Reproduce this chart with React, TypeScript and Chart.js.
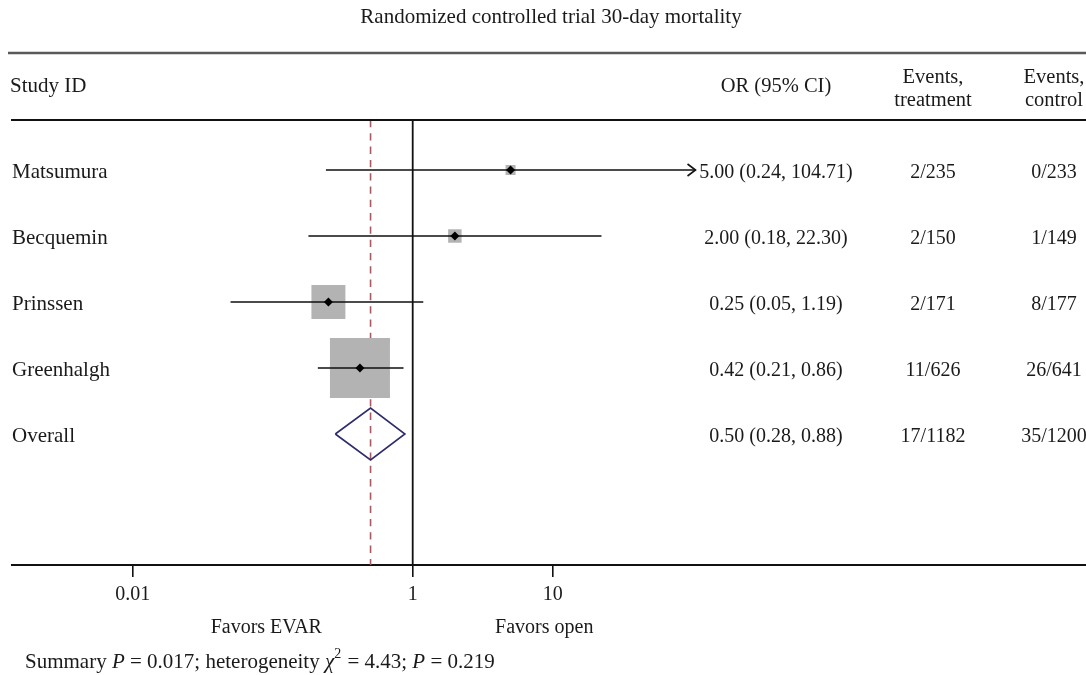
import React, { useEffect, useRef } from "react";
import { Chart, registerables } from "chart.js";

Chart.register(...registerables);

// ---------- data ----------
const chartTitle = "Randomized controlled trial 30-day mortality";
const studies = ["Matsumura", "Becquemin", "Prinssen", "Greenhalgh"];
const oddsRatios = [5.0, 2.0, 0.25, 0.42];
const ciLower = [0.24, 0.18, 0.05, 0.21];
const ciUpper = [104.71, 22.3, 1.19, 0.86];
const weights = [2.0, 3.6, 22.9, 71.5];
const eventsTreatment = ["2/235", "2/150", "2/171", "11/626"];
const eventsControl = ["0/233", "1/149", "8/177", "26/641"];

const overallLabel = "Overall";
const overallOR = 0.5;
const overallLower = 0.28;
const overallUpper = 0.88;
const overallTreatment = "17/1182";
const overallControl = "35/1200";

const xTicks = [0.01, 1, 10];
const favorsLabels = ["Favors EVAR", "Favors open"];
const favorsAnchors = [0.09, 8.7];
const headerLabels = ["Study ID", "OR (95% CI)", "Events,|treatment", "Events,|control"];
const summaryP = "0.017";
const heterogeneityChi2 = "4.43";
const heterogeneityP = "0.219";
const arrowCap = 100;

// ---------- layout / style ----------
const W = 1086;
const H = 675;
const FONT = "'Liberation Serif', 'DejaVu Serif', serif";
const TEXT = "#1a1a1a";
const X_MIN = Math.pow(10, -2.862);
const X_MAX = Math.pow(10, 4.809);
const Y_MIN = 0.2424;
const Y_MAX = 6.985;
const COL_OR = 776;
const COL_TREAT = 933;
const COL_CTRL = 1054;
const MAX_BOX = 60;
const DIAMOND_HALF = 0.394;

const nRows = studies.length + 1;
const rowIndex = (i: number) => i + 1;

const fmt = (v: number) => v.toFixed(2);
const orText = (o: number, l: number, u: number) => `${fmt(o)} (${fmt(l)}, ${fmt(u)})`;

const forestPlugin = {
  id: "forestText",
  afterDatasetsDraw(chart: any) {
    const { ctx, scales } = chart;
    const x = scales.x;
    const y = scales.y;
    ctx.save();
    ctx.strokeStyle = "#111";
    ctx.lineWidth = 1.6;
    studies.forEach((_, i) => {
      if (ciUpper[i] > arrowCap) {
        const px = x.getPixelForValue(ciUpper[i]);
        const py = y.getPixelForValue(rowIndex(i));
        ctx.beginPath();
        ctx.moveTo(px - 8, py - 6);
        ctx.lineTo(px, py);
        ctx.lineTo(px - 8, py + 6);
        ctx.stroke();
      }
    });
    ctx.restore();
  },
  afterDraw(chart: any) {
    const { ctx, scales, chartArea } = chart;
    const x = scales.x;
    const y = scales.y;
    ctx.save();
    ctx.fillStyle = TEXT;
    ctx.textBaseline = "alphabetic";

    // title
    ctx.font = `21px ${FONT}`;
    ctx.textAlign = "center";
    ctx.fillText(chartTitle, 551, 23);

    // rules
    ctx.strokeStyle = "#5a5a5a";
    ctx.lineWidth = 2.5;
    ctx.beginPath();
    ctx.moveTo(8, 53);
    ctx.lineTo(W, 53);
    ctx.stroke();
    ctx.strokeStyle = "#111";
    ctx.lineWidth = 2;
    ctx.beginPath();
    ctx.moveTo(11, chartArea.top);
    ctx.lineTo(W, chartArea.top);
    ctx.stroke();

    // header
    ctx.font = `21px ${FONT}`;
    ctx.textAlign = "left";
    ctx.fillText(headerLabels[0], 10, 92);
    ctx.font = `20.5px ${FONT}`;
    ctx.textAlign = "center";
    ctx.fillText(headerLabels[1], COL_OR, 92);
    const [t1, t2] = headerLabels[2].split("|");
    ctx.fillText(t1, COL_TREAT, 83);
    ctx.fillText(t2, COL_TREAT, 106);
    const [c1, c2] = headerLabels[3].split("|");
    ctx.fillText(c1, COL_CTRL, 83);
    ctx.fillText(c2, COL_CTRL, 106);

    // rows
    const names = [...studies, overallLabel];
    const ors = [
      ...studies.map((_, i) => orText(oddsRatios[i], ciLower[i], ciUpper[i])),
      orText(overallOR, overallLower, overallUpper),
    ];
    const treat = [...eventsTreatment, overallTreatment];
    const ctrl = [...eventsControl, overallControl];
    for (let i = 0; i < nRows; i++) {
      const py = y.getPixelForValue(rowIndex(i)) + 8;
      ctx.font = `21px ${FONT}`;
      ctx.textAlign = "left";
      ctx.fillText(names[i], 12, py);
      ctx.font = `20px ${FONT}`;
      ctx.textAlign = "center";
      ctx.fillText(ors[i], COL_OR, py);
      ctx.fillText(treat[i], COL_TREAT, py);
      ctx.fillText(ctrl[i], COL_CTRL, py);
    }

    // favors labels
    ctx.font = `20px ${FONT}`;
    ctx.textAlign = "center";
    favorsLabels.forEach((lab, i) => {
      ctx.fillText(lab, x.getPixelForValue(favorsAnchors[i]), 633);
    });

    // summary line
    const parts: [string, string][] = [
      ["Summary ", "n"],
      ["P", "i"],
      [` = ${summaryP}; heterogeneity `, "n"],
      ["\u03C7", "i"],
      ["2", "s"],
      [` = ${heterogeneityChi2}; `, "n"],
      ["P", "i"],
      [` = ${heterogeneityP}`, "n"],
    ];
    ctx.textAlign = "left";
    let cx = 25;
    const base = 668;
    for (const [txt, kind] of parts) {
      if (kind === "i") ctx.font = `italic 21px ${FONT}`;
      else if (kind === "s") ctx.font = `14px ${FONT}`;
      else ctx.font = `21px ${FONT}`;
      const dy = kind === "s" ? -10 : 0;
      ctx.fillText(txt, cx, base + dy);
      cx += ctx.measureText(txt).width + (kind === "s" ? 1 : 0);
    }
    ctx.restore();
  },
};

export default function App() {
  const ref = useRef<HTMLCanvasElement | null>(null);

  useEffect(() => {
    if (!ref.current) return;

    const ciData: any[] = [];
    studies.forEach((_, i) => {
      ciData.push({ x: ciLower[i], y: rowIndex(i) });
      ciData.push({ x: ciUpper[i], y: rowIndex(i) });
      ciData.push({ x: ciUpper[i], y: null });
    });

    const wMax = Math.max(...weights);
    const boxRadius = weights.map((w) => (MAX_BOX * Math.sqrt(w / wMax)) / (2 * Math.SQRT1_2));

    const oRow = rowIndex(studies.length);
    const diamond = [
      { x: overallLower, y: oRow },
      { x: overallOR, y: oRow - DIAMOND_HALF },
      { x: overallUpper, y: oRow },
      { x: overallOR, y: oRow + DIAMOND_HALF },
      { x: overallLower, y: oRow },
    ];

    const chart = new Chart(ref.current, {
      type: "scatter",
      data: {
        datasets: [
          {
            type: "line",
            label: "overall",
            data: diamond,
            borderColor: "#2d2c6c",
            borderWidth: 1.6,
            borderJoinStyle: "miter",
            pointRadius: 0,
            fill: false,
            tension: 0,
            order: 0,
          } as any,
          {
            type: "scatter",
            label: "estimate",
            data: oddsRatios.map((v, i) => ({ x: v, y: rowIndex(i) })),
            pointStyle: "rectRot",
            pointRadius: 4.5,
            backgroundColor: "#000",
            borderColor: "#000",
            borderWidth: 0,
            order: 1,
          } as any,
          {
            type: "line",
            label: "ci",
            data: ciData,
            borderColor: "#111",
            borderWidth: 1.6,
            pointRadius: 0,
            spanGaps: false,
            fill: false,
            order: 2,
          } as any,
          {
            type: "scatter",
            label: "weight",
            data: oddsRatios.map((v, i) => ({ x: v, y: rowIndex(i) })),
            pointStyle: "rect",
            pointRadius: boxRadius,
            backgroundColor: "#b3b3b3",
            borderWidth: 0,
            order: 3,
          } as any,
          {
            type: "line",
            label: "null",
            data: [
              { x: 1, y: Y_MIN },
              { x: 1, y: Y_MAX },
            ],
            borderColor: "#111",
            borderWidth: 1.8,
            pointRadius: 0,
            order: 4,
          } as any,
          {
            type: "line",
            label: "overallLine",
            data: [
              { x: overallOR, y: Y_MIN },
              { x: overallOR, y: Y_MAX },
            ],
            borderColor: "#a85a64",
            borderWidth: 1.6,
            borderDash: [7.3, 6],
            pointRadius: 0,
            order: 5,
          } as any,
        ],
      },
      options: {
        responsive: false,
        animation: false,
        events: [],
        layout: { autoPadding: false, padding: { top: 120, left: 12, right: 0, bottom: 70 } },
        plugins: {
          legend: { display: false },
          tooltip: { enabled: false },
          title: { display: false },
        },
        scales: {
          x: {
            type: "logarithmic",
            position: "bottom",
            min: X_MIN,
            max: X_MAX,
            bounds: "data",
            afterBuildTicks: (scale: any) => {
              scale.ticks = xTicks.map((v) => ({ value: v }));
            },
            afterFit: (scale: any) => {
              scale.height = 40;
            },
            grid: {
              drawOnChartArea: false,
              drawTicks: true,
              tickLength: 12,
              color: "#111",
              lineWidth: 1.6,
            },
            border: { display: true, color: "#111", width: 2 },
            ticks: {
              autoSkip: false,
              maxRotation: 0,
              padding: 6,
              color: TEXT,
              font: { family: FONT, size: 20 },
              callback: (v: any) => String(v),
            },
          },
          y: {
            type: "linear",
            display: false,
            reverse: true,
            min: Y_MIN,
            max: Y_MAX,
          },
        },
      } as any,
      plugins: [forestPlugin],
    });

    return () => chart.destroy();
  }, []);

  return (
    <div style={{ position: "fixed", left: 0, top: 0, width: W, height: H, background: "#fff" }}>
      <canvas ref={ref} width={W} height={H} style={{ width: W, height: H, display: "block" }} />
    </div>
  );
}
